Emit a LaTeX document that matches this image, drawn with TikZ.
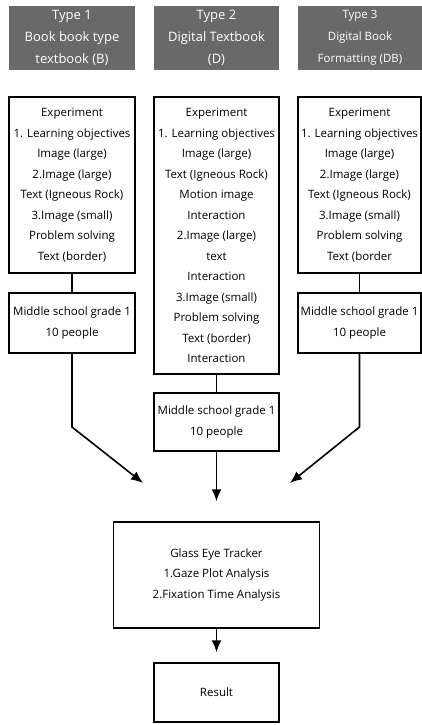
\documentclass[tikz,border=0pt]{standalone}
\usepackage{fontspec}
\setmainfont{Open Sans}
\usetikzlibrary{arrows.meta}
\definecolor{headgray}{RGB}{105,105,105}

\begin{document}
\begin{tikzpicture}[x=1pt,y=-1pt,
    typebox/.style={fill=headgray,text=white,align=center,inner sep=0pt,
        minimum height=64pt,font=\fontsize{13}{22}\selectfont},
    stepbox/.style={draw,line width=1.5pt,align=center,inner sep=0pt,
        font=\fontsize{11.5}{20.5}\selectfont},
    link/.style={line width=1.6pt},
    flow/.style={line width=1.6pt,-{Latex[length=12pt,width=10pt]}}]
    \useasboundingbox (0,0) rectangle (422,725);

    % Types
    \node[typebox,minimum width=126pt] (type1) at (72,38) {Type 1\\Book book type\\textbook (B)};
    \node[typebox,minimum width=125pt] (type2) at (216.5,38) {Type 2\\Digital Textbook\\(D)};
    \node[typebox,minimum width=124pt,font=\fontsize{11.5}{22}\selectfont] (type3) at (360,38) {Type 3\\Digital Book\\Formatting (DB)};

    % Contents
    \node[stepbox,minimum width=126pt,minimum height=176pt] (book1) at (72,185)
        {Experiment\\1. Learning objectives\\Image (large)\\2.Image (large)\\Text (Igneous Rock)\\3.Image (small)\\Problem solving\\Text (border)};
    \node[stepbox,minimum width=125pt,minimum height=277pt] (book2) at (216.5,235.5)
        {Experiment\\1. Learning objectives\\Image (large)\\Text (Igneous Rock)\\Motion image\\Interaction\\2.Image (large)\\text\\Interaction\\3.Image (small)\\Problem solving\\Text (border)\\Interaction};
    \node[stepbox,minimum width=123pt,minimum height=176pt] (book3) at (359.5,185)
        {Experiment\\1. Learning objectives\\Image (large)\\2.Image (large)\\Text (Igneous Rock)\\3.Image (small)\\Problem solving\\Text (border};

    % Participants
    \node[stepbox,minimum width=126pt,minimum height=60pt] (group1) at (72,323) {Middle school grade 1\\10 people};
    \node[stepbox,minimum width=125pt,minimum height=58pt] (group2) at (216.5,422) {Middle school grade 1\\10 people};
    \node[stepbox,minimum width=123pt,minimum height=60pt] (group3) at (359.5,323) {Middle school grade 1\\10 people};

    % Analysis
    \node[stepbox,minimum width=206pt,minimum height=106pt] (tracker) at (216.5,575)
        {Glass Eye Tracker\\1.Gaze Plot Analysis\\2.Fixation Time Analysis};
    \node[stepbox,minimum width=125pt,minimum height=59pt] (result) at (216.5,692.5) {Result};

    \coordinate (bend1) at (72,427);
    \coordinate (tip1) at (143,483);
    \coordinate (bend3) at (359.5,427);
    \coordinate (tip3) at (290,483);

    % Connectors
    \draw[link] (book1) -- (group1);
    \draw[link] (book2) -- (group2);
    \draw[link] (book3) -- (group3);
    \draw[flow] (group1) -- (bend1) -- (tip1);
    \draw[flow] (group3) -- (bend3) -- (tip3);
    \draw[flow,shorten >=20pt] (group2) -- (tracker);
    \draw[flow,shorten >=10pt] (tracker) -- (result);
\end{tikzpicture}
\end{document}
